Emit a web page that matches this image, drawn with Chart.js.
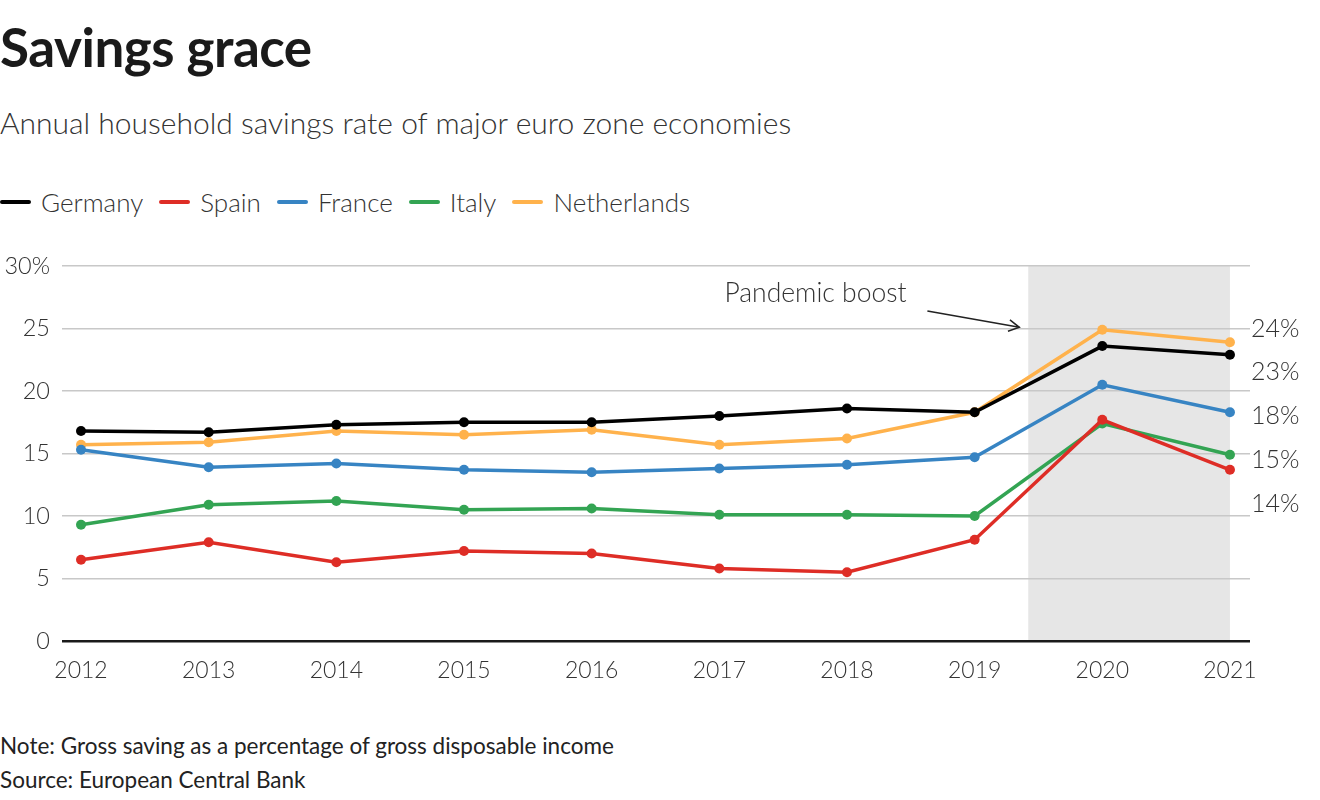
<!DOCTYPE html>
<html>
<head>
<meta charset="utf-8">
<script src="https://cdn.jsdelivr.net/npm/chart.js@4.4.1/dist/chart.umd.min.js"></script>
<style>
  html, body { margin: 0; padding: 0; background: #fff; }
  body { width: 1320px; height: 800px; position: relative; overflow: hidden; font-family: Lato, "Noto Sans", sans-serif; color: #222; }
  #title { position: absolute; left: 0; top: 14px; font-size: 53px; font-weight: 700; color: #1a1a1a; letter-spacing: -0.5px; line-height: 66px; }
  #subtitle { position: absolute; left: 0; top: 103px; font-size: 30px; font-weight: 300; color: #333; line-height: 38px; }
  #legend { position: absolute; left: 0; top: 186px; height: 32px; display: flex; align-items: center; font-size: 26px; font-weight: 300; color: #333; }
  .item { display: flex; align-items: center; margin-right: 16px; }
  .swatch { width: 31px; height: 4px; border-radius: 2px; margin-right: 10px; }
  #wrap { position: absolute; left: 0; top: 240px; width: 1320px; height: 460px; }
  #note { position: absolute; left: 0; top: 729px; font-size: 22.5px; color: #222; line-height: 34px; }
</style>
</head>
<body>
<div id="title">Savings grace</div>
<div id="subtitle">Annual household savings rate of major euro zone economies</div>
<div id="legend"></div>
<div id="wrap"><canvas id="c" width="1320" height="460"></canvas></div>
<div id="note">Note: Gross saving as a percentage of gross disposable income<br>Source: European Central Bank</div>
<script>
// ---- data ----
const years = [2012, 2013, 2014, 2015, 2016, 2017, 2018, 2019, 2020, 2021];
const seriesNames = ["Germany", "Spain", "France", "Italy", "Netherlands"];
const germany     = [16.8, 16.7, 17.3, 17.5, 17.5, 18.0, 18.6, 18.3, 23.6, 22.9];
const spain       = [6.5, 7.9, 6.3, 7.2, 7.0, 5.8, 5.5, 8.1, 17.7, 13.7];
const france      = [15.3, 13.9, 14.2, 13.7, 13.5, 13.8, 14.1, 14.7, 20.5, 18.3];
const italy       = [9.3, 10.9, 11.2, 10.5, 10.6, 10.1, 10.1, 10.0, 17.4, 14.9];
const netherlands = [15.7, 15.9, 16.8, 16.5, 16.9, 15.7, 16.2, 18.3, 24.9, 23.9];
const yTicks = [0, 5, 10, 15, 20, 25, 30];
const endLabels = ["24%", "23%", "18%", "15%", "14%"];
const endLabelValues = [25.0, 21.5, 18.0, 14.45, 10.95];
const shadeRange = [2019.42, 2021];
const annotationText = "Pandemic boost";
const annotationAt = [2017.04, 27.8];
const arrowFrom = [2018.63, 26.4];
const arrowTo = [2019.35, 25.1];

const colors = ["#000000", "#de2d26", "#3784c3", "#33a453", "#ffb24c"];
const seriesValues = [germany, spain, france, italy, netherlands];

// legend
const legend = document.getElementById('legend');
seriesNames.forEach((n, i) => {
  const d = document.createElement('div'); d.className = 'item';
  d.innerHTML = '<span class="swatch" style="background:' + colors[i] + '"></span><span>' + n + '</span>';
  legend.appendChild(d);
});

const datasets = seriesNames.map((n, i) => ({
  label: n,
  data: years.map((y, j) => ({ x: y, y: seriesValues[i][j] })),
  borderColor: colors[i],
  backgroundColor: colors[i],
  borderWidth: 3.5,
  pointRadius: 5,
  pointHoverRadius: 5,
  pointBorderWidth: 0,
  tension: 0
}));

const FONT = 'Lato, "Noto Sans", sans-serif';

const decor = {
  id: 'decor',
  beforeDraw(chart) {
    const { ctx, chartArea, scales } = chart;
    const x0 = scales.x.getPixelForValue(shadeRange[0]);
    const x1 = scales.x.getPixelForValue(shadeRange[1]);
    ctx.save();
    ctx.fillStyle = '#e6e6e6';
    ctx.fillRect(x0, chartArea.top, x1 - x0, chartArea.bottom - chartArea.top);
    ctx.restore();
  },
  afterDatasetsDraw(chart) {
    const { ctx, chartArea, scales } = chart;
    ctx.save();
    ctx.font = '300 25px ' + FONT;
    ctx.fillStyle = '#333';
    ctx.textAlign = 'left';
    ctx.textBaseline = 'middle';
    endLabels.forEach((t, i) => {
      ctx.fillText(t, chartArea.right + 1, scales.y.getPixelForValue(endLabelValues[i]));
    });
    // annotation
    ctx.font = '300 26.5px ' + FONT;
    ctx.fillText(annotationText, scales.x.getPixelForValue(annotationAt[0]), scales.y.getPixelForValue(annotationAt[1]));
    const ax = scales.x.getPixelForValue(arrowFrom[0]), ay = scales.y.getPixelForValue(arrowFrom[1]);
    const bx = scales.x.getPixelForValue(arrowTo[0]), by = scales.y.getPixelForValue(arrowTo[1]);
    ctx.strokeStyle = '#222';
    ctx.lineWidth = 1.5;
    ctx.beginPath(); ctx.moveTo(ax, ay); ctx.lineTo(bx, by); ctx.stroke();
    const ang = Math.atan2(by - ay, bx - ax), L = 12, sp = 0.5;
    ctx.beginPath();
    ctx.moveTo(bx - L * Math.cos(ang - sp), by - L * Math.sin(ang - sp));
    ctx.lineTo(bx, by);
    ctx.lineTo(bx - L * Math.cos(ang + sp), by - L * Math.sin(ang + sp));
    ctx.stroke();
    ctx.restore();
  }
};

new Chart(document.getElementById('c'), {
  type: 'line',
  data: { datasets },
  options: {
    responsive: false,
    devicePixelRatio: 1,
    animation: false,
    events: [],
    layout: { padding: { left: 0, right: 70, top: 26, bottom: 0 } },
    plugins: { legend: { display: false }, tooltip: { enabled: false } },
    scales: {
      x: {
        type: 'linear',
        min: 2011.851,
        max: 2021.157,
        afterBuildTicks(s) { s.ticks = years.map(v => ({ value: v })); },
        afterFit(s) { s.height = 59; },
        grid: { display: false, drawTicks: false },
        border: { display: false },
        ticks: { padding: 16, color: '#333', font: { family: FONT, size: 23, weight: 300 }, callback: v => String(v), maxRotation: 0, autoSkip: false }
      },
      y: {
        min: 0, max: 30,
        afterBuildTicks(s) { s.ticks = yTicks.map(v => ({ value: v })); },
        afterFit(s) { s.width = 62; },
        grid: {
          drawTicks: false,
          color: c => c.tick && c.tick.value === 0 ? '#1a1a1a' : '#c8c8c8',
          lineWidth: c => c.tick && c.tick.value === 0 ? 2.5 : 1.5
        },
        border: { display: false },
        ticks: { padding: 12, color: '#333', font: { family: FONT, size: 23.5, weight: 300 }, callback: v => v === 30 ? '30%' : String(v) }
      }
    }
  },
  plugins: [decor]
});
</script>
</body>
</html>
